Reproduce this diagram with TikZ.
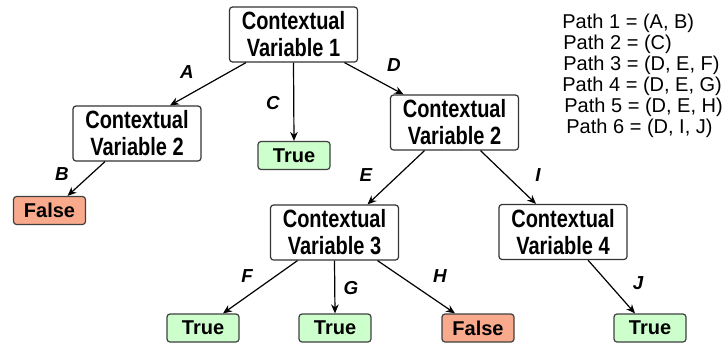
\documentclass[tikz,border=0pt]{standalone}
\usepackage{fontspec}
\setmainfont{Liberation Sans}
\newfontfamily\boxfont[FakeStretch=0.8]{Liberation Sans}
\usetikzlibrary{arrows.meta}
\usetikzlibrary{calc}

\definecolor{truegreen}{RGB}{204,255,204}
\definecolor{falsered}{RGB}{250,170,140}

\tikzset{
    varbox/.style={draw=black!80, rounded corners=1.5pt, line width=0.6pt, fill=white,
        minimum width=64pt, minimum height=27.5pt, inner sep=1pt, align=center,
        font=\boxfont\fontsize{12.5}{13.5}\selectfont\bfseries},
    leafbox/.style={draw=black!75, rounded corners=1.5pt, line width=0.6pt,
        minimum width=36pt, minimum height=14pt, inner sep=0.5pt,
        font=\fontsize{10}{10}\selectfont\bfseries},
    truebox/.style={leafbox, fill=truegreen},
    falsebox/.style={leafbox, fill=falsered},
    branch/.style={font=\fontsize{9.4}{9.4}\selectfont\bfseries\itshape},
    pathtxt/.style={anchor=base west, inner sep=0pt, font=\fontsize{10}{10}\selectfont},
    edge/.style={-{Stealth[length=4.5pt,width=3.8pt]}, line width=0.6pt}
}

\begin{document}
\begin{tikzpicture}[x=0.5pt,y=-0.5pt]

    \useasboundingbox (0,0) rectangle (728,343);

    % Tree nodes
    \node[varbox] (v1) at (293.5,34.5) {Contextual\\Variable 1};
    \node[varbox] (v2a) at (137,133.5) {Contextual\\Variable 2};
    \node[truebox] (t1) at (294,155.5) {True};
    \node[varbox] (v2b) at (454.5,122.5) {Contextual\\Variable 2};
    \node[falsebox] (f1) at (49.5,210.5) {False};
    \node[varbox] (v3) at (334.5,232.5) {Contextual\\Variable 3};
    \node[varbox] (v4) at (563,232) {Contextual\\Variable 4};
    \node[truebox] (t2) at (203,328) {True};
    \node[truebox] (t3) at (335,328) {True};
    \node[falsebox] (f2) at (478,328) {False};
    \node[truebox] (t4) at (650,328) {True};

    % Edges
    \draw[edge] ($(v1.south)+(-47.5,0)$) -- ($(v2a.north)+(33,0)$);
    \draw[edge] ($(v1.south)+(0,0)$) -- (t1.north);
    \draw[edge] ($(v1.south)+(51,0)$) -- ($(v2b.north)+(-51,0)$);
    \draw[edge] ($(v2a.south)+(-32,0)$) -- ($(f1.north)+(18,0)$);
    \draw[edge] ($(v2b.south)+(-30,0)$) -- ($(v3.north)+(33,0)$);
    \draw[edge] ($(v2b.south)+(26,0)$) -- ($(v4.north)+(-27,0)$);
    \draw[edge] ($(v3.south)+(-37,0)$) -- ($(t2.north)+(20,0)$);
    \draw[edge] ($(v3.south)+(0,0)$) -- (t3.north);
    \draw[edge] ($(v3.south)+(43,0)$) -- ($(f2.north)+(-23,0)$);
    \draw[edge] ($(v4.south)+(25,0)$) -- ($(t4.north)+(-15,0)$);

    % Edge labels
    \node[branch] (lA) at (187,72) {A};
    \node[branch] (lB) at (62,174) {B};
    \node[branch] (lC) at (273,103) {C};
    \node[branch] (lD) at (394,65) {D};
    \node[branch] (lE) at (366,175) {E};
    \node[branch] (lF) at (247,276) {F};
    \node[branch] (lG) at (351,288) {G};
    \node[branch] (lH) at (440,276) {H};
    \node[branch] (lI) at (538,175) {I};
    \node[branch] (lJ) at (638,283) {J};

    % Path list
    \node[pathtxt] (p1) at (562,28) {Path 1 = (A, B)};
    \node[pathtxt] (p2) at (563,49) {Path 2 = (C)};
    \node[pathtxt] (p3) at (563,70) {Path 3 = (D, E, F)};
    \node[pathtxt] (p4) at (562,91) {Path 4 = (D, E, G)};
    \node[pathtxt] (p5) at (564,112) {Path 5 = (D, E, H)};
    \node[pathtxt] (p6) at (566,133) {Path 6 = (D, I, J)};

\end{tikzpicture}
\end{document}
